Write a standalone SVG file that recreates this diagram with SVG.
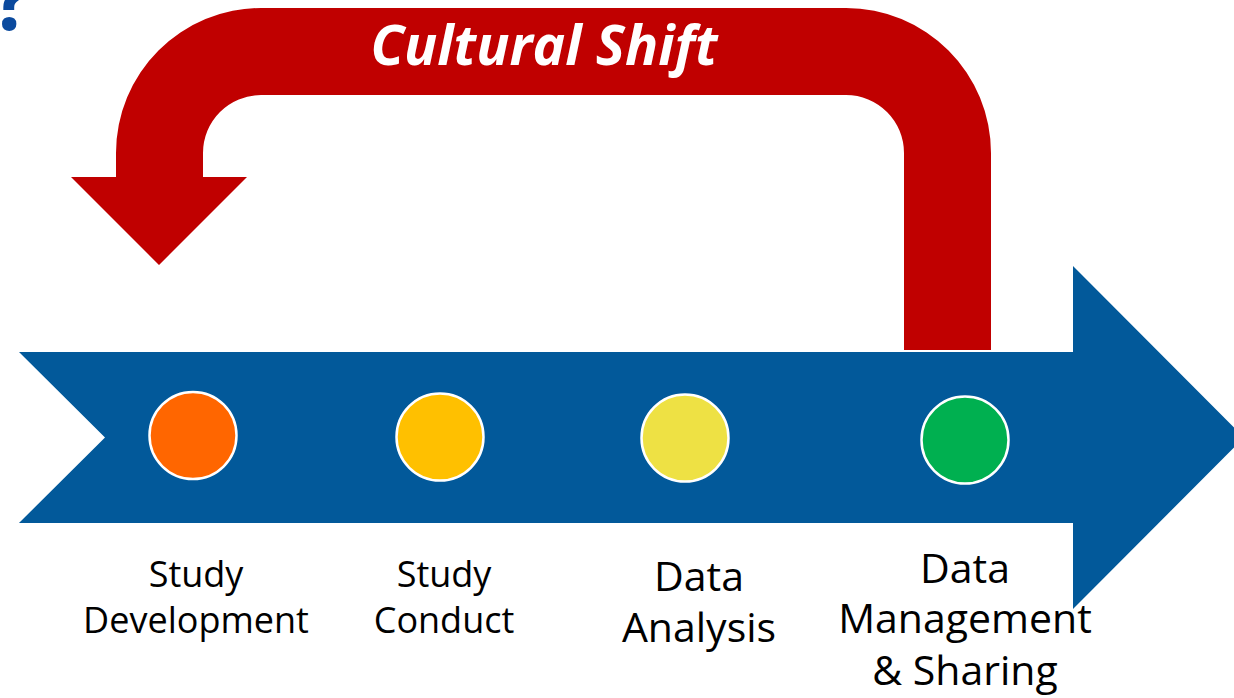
<svg xmlns="http://www.w3.org/2000/svg" width="1234" height="698" viewBox="0 0 1234 698">
  <style>
    .label { font-family: "Open Sans", "Liberation Sans", sans-serif; fill: #000000; text-anchor: middle; }
    .small { font-size: 36px; }
    .large { font-size: 41px; }
    .stage { stroke: #FFFFFF; stroke-width: 2.5; }
    .title { font-family: "Open Sans", "Liberation Sans", sans-serif; font-weight: bold; font-style: italic; fill: #FFFFFF; text-anchor: middle; }
  </style>
  <rect width="1234" height="698" fill="#FFFFFF"/>

  <!-- cropped question mark at the top-left edge -->
  <text x="-8" y="30" font-family="Open Sans, Liberation Sans, sans-serif" font-weight="bold" font-size="84" fill="#0B4A9E">?</text>

  <g id="connectors">
    <!-- main process arrow -->
    <polygon id="process-arrow" fill="#02599A" points="19,352 1073,352 1073,266 1244,437.5 1073,609 1073,523 19,523 105,437.5"/>
    <!-- feedback arrow -->
    <path id="feedback-arrow" fill="#C00000" d="M991,350 L991,153 A145,145 0 0 0 846,8 L261,8 A145,145 0 0 0 116,153 L116,177 L71,177 L159,265 L247,177 L203,177 L203,153 A58,58 0 0 1 261,95 L846,95 A58,58 0 0 1 904,153 L904,350 Z"/>
  </g>

  <g id="cultural-shift">
    <text class="title" x="544" y="65" font-size="55">Cultural Shift</text>
  </g>

  <g id="study-development">
    <circle class="stage" cx="193" cy="435.5" r="43.5" fill="#FF6600"/>
    <text class="label small" x="196" y="587">Study</text>
    <text class="label small" x="196" y="633">Development</text>
  </g>

  <g id="study-conduct">
    <circle class="stage" cx="440" cy="437" r="43.5" fill="#FFC000"/>
    <text class="label small" x="444" y="587">Study</text>
    <text class="label small" x="444" y="633">Conduct</text>
  </g>

  <g id="data-analysis">
    <circle class="stage" cx="685" cy="438" r="43.5" fill="#EEE144"/>
    <text class="label large" x="699" y="591">Data</text>
    <text class="label large" x="699" y="642">Analysis</text>
  </g>

  <g id="data-management-sharing">
    <circle class="stage" cx="965" cy="440" r="43.5" fill="#00B050"/>
    <text class="label large" x="965" y="583">Data</text>
    <text class="label large" x="965" y="633">Management</text>
    <text class="label large" x="965" y="685">&amp; Sharing</text>
  </g>
</svg>
